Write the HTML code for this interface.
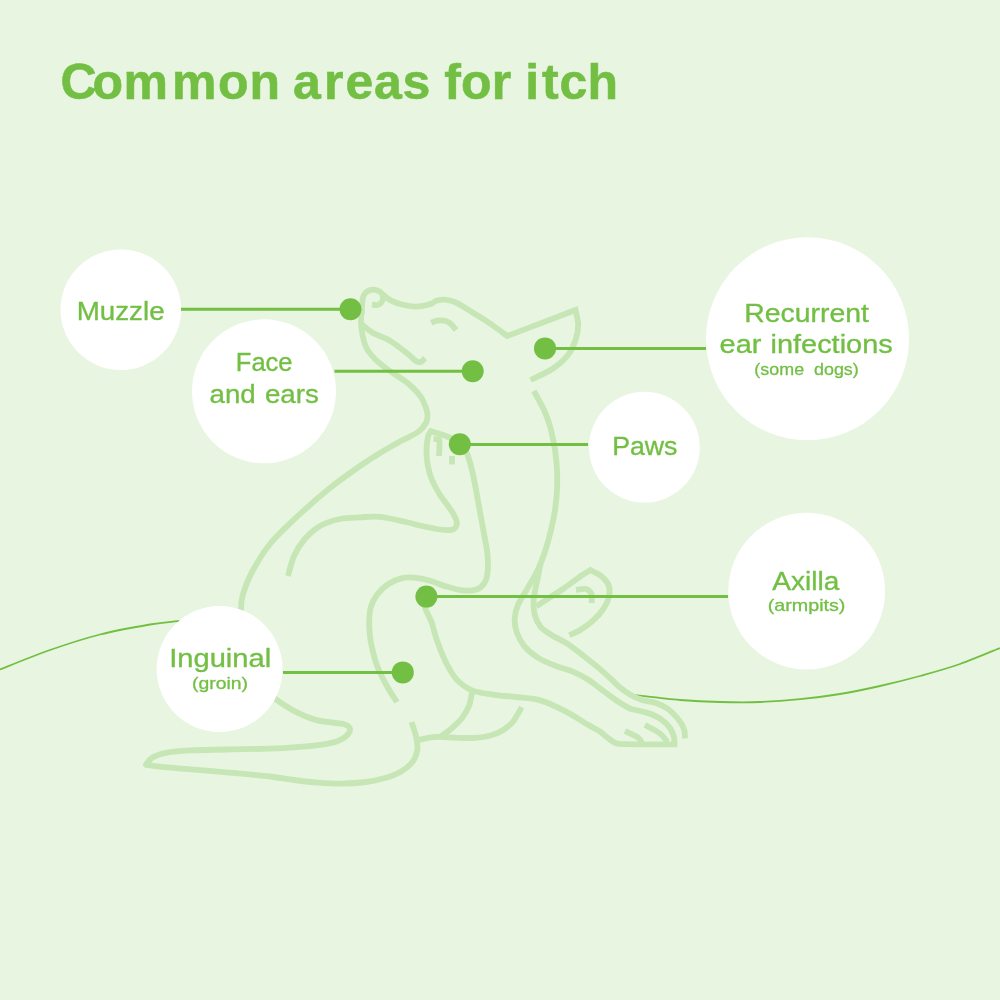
<!DOCTYPE html>
<html><head><meta charset="utf-8"><style>
html,body{margin:0;padding:0;background:#e8f5e0;}
body{width:1000px;height:1000px;overflow:hidden;position:relative;font-family:"Liberation Sans",sans-serif;}
svg{position:absolute;left:0;top:0;}
text{font-family:"Liberation Sans",sans-serif;fill:#72bf44;stroke:#72bf44;stroke-linejoin:round;}
</style></head><body>
<svg width="1000" height="1000" viewBox="0 0 1000 1000">
<rect width="1000" height="1000" fill="#e8f5e0"/>
<g fill="none" stroke="#72bf44" stroke-width="1.8">
<path d="M0.0 669.5 C8.3 666.2 33.3 655.8 50.0 650.0 C66.7 644.2 83.3 638.8 100.0 634.5 C116.7 630.2 137.1 626.7 150.0 624.5 C162.9 622.3 169.2 622.1 177.5 621.2 C185.8 620.3 196.2 619.4 200.0 619.0"/>
<path d="M636.0 695.2 C643.3 696.0 666.0 698.9 680.0 700.0 C694.0 701.1 706.7 701.7 720.0 702.0 C733.3 702.3 746.7 702.5 760.0 702.0 C773.3 701.5 786.7 700.5 800.0 699.2 C813.3 697.9 826.7 696.2 840.0 694.0 C853.3 691.8 866.7 689.0 880.0 686.0 C893.3 683.0 906.7 679.7 920.0 676.0 C933.3 672.3 946.7 668.7 960.0 664.0 C973.3 659.3 993.3 650.7 1000.0 648.0"/>
</g>
<g fill="none" stroke="#c6e6b6" stroke-width="5.8" stroke-linejoin="miter" stroke-miterlimit="6" stroke-linecap="butt">
<path d="M361.7 310.0 C361.6 312.0 360.9 317.8 361.0 322.0 C361.1 326.2 361.6 330.7 362.5 335.0 C363.4 339.3 364.4 344.0 366.5 348.0 C368.6 352.0 371.6 355.5 375.0 359.0 C378.4 362.5 383.0 366.0 387.0 369.0 C391.0 372.0 395.0 374.2 399.0 377.0 C403.0 379.8 407.3 382.7 411.0 386.0 C414.7 389.3 418.5 393.3 421.0 397.0 C423.5 400.7 424.9 405.0 426.0 408.0 C427.1 411.0 427.5 412.5 427.5 415.0 C427.5 417.5 427.6 420.2 426.0 423.0 C424.4 425.8 422.3 428.9 418.0 432.0 C413.7 435.1 406.3 438.0 400.0 441.5 C393.7 445.0 386.7 448.9 380.0 453.0 C373.3 457.1 368.3 460.2 360.0 466.0 C351.7 471.8 340.0 480.0 330.0 488.0 C320.0 496.0 310.0 504.7 300.0 514.0 C290.0 523.3 278.0 534.3 270.0 544.0 C262.0 553.7 256.5 563.7 252.0 572.0 C247.5 580.3 244.8 587.8 243.0 594.0 C241.2 600.2 241.0 601.3 241.0 609.0 C241.0 616.7 241.2 629.8 243.0 640.0 C244.8 650.2 248.5 662.0 252.0 670.0 C255.5 678.0 259.9 683.1 264.0 688.0 C268.1 692.9 271.4 695.8 276.4 699.6 C281.4 703.4 287.6 707.5 294.0 710.8 C300.4 714.1 308.1 717.6 314.8 719.6 C321.5 721.6 328.9 722.0 334.0 722.8 C339.1 723.6 342.5 723.6 345.2 724.6 C347.9 725.6 349.7 727.0 350.0 728.8 C350.3 730.6 348.9 733.5 346.8 735.6 C344.7 737.7 342.0 739.6 337.2 741.2 C332.4 742.8 325.2 744.2 318.0 745.2 C310.8 746.2 302.0 746.8 294.0 747.4 C286.0 748.0 281.3 748.2 270.0 748.6 C258.7 749.0 239.3 749.2 226.0 749.5 C212.7 749.8 200.0 749.9 190.0 750.4 C180.0 750.9 172.2 751.6 166.0 752.8 C159.8 754.0 155.8 755.5 152.5 757.5 C149.2 759.5 147.1 763.6 146.0 764.8 L146.0 764.8 C148.3 765.1 154.7 766.0 160.0 766.6 C165.3 767.2 167.0 767.3 178.0 768.3 C189.0 769.2 210.7 770.9 226.0 772.3 C241.3 773.7 258.7 775.2 270.0 776.5 C281.3 777.8 286.0 779.0 294.0 780.0 C302.0 781.0 310.0 782.0 318.0 782.6 C326.0 783.2 334.0 783.7 342.0 783.6 C350.0 783.5 358.8 782.9 366.0 782.0 C373.2 781.1 379.3 779.7 385.2 778.0 C391.1 776.3 396.7 774.3 401.2 771.6 C405.7 768.9 409.7 765.5 412.4 762.0 C415.1 758.5 416.5 754.8 417.2 750.8 C417.9 746.8 417.3 742.8 416.4 738.0 C415.5 733.2 412.4 724.7 411.6 722.0" stroke-linejoin="round"/>
<path d="M361.6 314.0 C361.7 312.7 361.8 308.8 362.0 306.0 C362.2 303.2 362.4 299.7 363.0 297.5 C363.6 295.3 364.3 294.2 365.3 293.0 C366.3 291.8 367.6 291.1 369.0 290.5 C370.4 289.9 372.2 289.4 374.0 289.6 C375.8 289.8 378.0 290.6 379.6 291.5 C381.2 292.4 381.9 293.8 383.8 295.3 C385.7 296.8 387.8 299.0 391.0 300.6 C394.2 302.2 399.0 303.8 403.0 304.8 C407.0 305.8 411.3 306.5 415.0 306.6 C418.7 306.7 422.2 306.0 425.0 305.5 C427.8 305.0 430.0 304.3 432.0 303.5 C434.0 302.7 434.8 301.1 437.0 300.5 C439.2 299.9 442.0 299.3 445.0 299.6 C448.0 299.9 451.7 300.8 455.0 302.2 C458.3 303.6 461.7 305.8 465.0 307.8 C468.3 309.8 471.7 311.9 475.0 314.0 C478.3 316.1 481.7 318.0 485.0 320.2 C488.3 322.4 491.3 324.4 495.0 327.0 C498.7 329.6 505.2 334.5 507.3 336.0 L575.5 310.0 C576.0 312.5 578.2 320.0 578.2 325.0 C578.2 330.0 577.2 335.0 575.5 340.0 C573.8 345.0 571.8 350.2 568.0 355.0 C564.2 359.8 559.2 364.3 553.0 368.5 C546.8 372.7 534.2 378.1 530.5 380.0"/>
<path d="M536.5 606.2 C538.4 605.0 543.2 601.7 547.6 598.8 C552.0 595.9 557.9 592.5 563.0 589.0 C568.1 585.5 573.9 580.9 578.4 577.8 C582.9 574.6 588.3 571.4 590.3 570.1 L590.3 570.1 C592.0 571.0 597.8 573.2 600.8 575.7 C603.8 578.2 607.1 581.4 608.5 584.8 C609.9 588.2 610.0 592.0 609.2 596.0 C608.4 600.0 606.4 604.4 603.6 608.6 C600.8 612.8 596.4 617.6 592.4 621.2 C588.4 624.8 583.6 628.0 579.8 630.3 C575.9 632.6 571.0 634.4 569.3 635.2"/>
<path d="M452.0 439.0 C451.5 438.7 451.0 438.0 449.0 437.2 C447.0 436.4 443.0 435.0 440.0 434.0 C437.0 433.0 432.5 431.8 431.0 431.3 L431.0 431.3 C430.5 432.1 428.9 432.9 428.2 436.0 C427.4 439.1 426.6 445.2 426.5 450.0 C426.4 454.8 426.8 460.0 427.7 465.0 C428.6 470.0 429.9 475.0 432.0 480.0 C434.1 485.0 437.3 490.7 440.0 495.0 C442.7 499.3 445.7 502.7 448.0 506.0 C450.3 509.3 452.5 512.2 454.0 515.0 C455.5 517.8 456.6 520.4 456.8 522.5 C457.1 524.6 456.5 526.2 455.5 527.5 C454.5 528.8 453.6 529.7 451.0 530.0 C448.4 530.3 445.2 530.2 440.0 529.5 C434.8 528.8 425.7 526.8 420.0 525.5 C414.3 524.2 412.7 523.5 406.0 522.0 C399.3 520.5 387.7 517.6 380.0 516.8 C372.3 516.0 366.7 517.0 360.0 517.4 C353.3 517.8 346.7 517.6 340.0 519.0 C333.3 520.4 326.0 522.5 320.0 526.0 C314.0 529.5 308.3 535.0 304.0 540.0 C299.7 545.0 296.7 550.0 294.0 556.0 C291.3 562.0 289.0 572.7 288.0 576.0"/>
<path d="M382.3 293.5 C382.4 294.4 383.2 297.4 383.0 299.0 C382.8 300.6 382.0 302.0 381.0 303.0 C380.0 304.0 378.5 305.0 377.0 305.2 C375.5 305.4 372.8 304.4 372.0 304.3"/>
<path d="M362.0 324.5 C363.8 325.9 368.8 330.6 373.0 333.0 C377.2 335.4 382.7 336.7 387.0 339.0 C391.3 341.3 395.3 344.3 399.0 347.0 C402.7 349.7 406.2 352.7 409.0 355.0 C411.8 357.3 414.0 359.8 416.0 361.0 C418.0 362.2 419.5 362.5 421.0 362.0 C422.5 361.5 424.3 358.7 425.0 358.0"/>
<path d="M431.3 322.8 C432.2 322.4 434.7 320.9 437.0 320.6 C439.3 320.3 442.7 320.2 445.0 320.8 C447.3 321.4 449.2 322.5 451.0 324.0 C452.8 325.5 455.2 329.0 456.0 330.0"/>
<path d="M533.8 391.0 C534.7 392.6 537.3 397.1 539.0 400.3 C540.7 403.5 542.5 406.7 544.0 410.0 C545.5 413.3 546.8 416.7 548.0 420.0 C549.2 423.3 549.8 425.0 551.0 430.0 C552.2 435.0 554.0 443.3 555.0 450.0 C556.0 456.7 556.7 463.3 557.0 470.0 C557.3 476.7 557.3 483.3 557.0 490.0 C556.7 496.7 556.0 503.3 555.0 510.0 C554.0 516.7 552.6 523.3 551.0 530.0 C549.4 536.7 547.6 543.5 545.5 550.0 C543.4 556.5 541.2 562.7 538.3 569.0 C535.4 575.3 531.4 581.7 528.0 587.6 C524.6 593.5 520.4 599.3 518.2 604.4 C516.0 609.5 514.9 613.7 514.7 618.4 C514.5 623.1 515.2 627.7 516.8 632.4 C518.4 637.1 521.0 642.2 524.5 646.4 C528.0 650.6 532.5 654.3 537.8 657.6 C543.0 660.9 550.2 663.7 556.0 666.0 C561.8 668.3 567.5 669.4 572.8 671.6 C578.1 673.9 583.5 676.7 588.0 679.5 C592.5 682.3 596.3 685.6 600.0 688.3 C603.7 691.0 606.7 693.4 610.0 695.8 C613.3 698.2 616.7 700.7 620.0 702.8 C623.3 704.9 626.3 707.0 630.0 708.5 C633.7 710.0 638.3 710.5 642.0 711.5 C645.7 712.5 648.7 713.1 652.0 714.5 C655.3 715.9 659.0 717.8 662.0 720.0 C665.0 722.2 668.0 725.2 670.0 728.0 C672.0 730.8 673.2 733.9 674.0 737.0 C674.8 740.1 674.4 744.9 674.5 746.5"/>
<path d="M540.5 563.5 C540.1 565.4 539.1 571.0 538.3 575.0 C537.5 579.0 536.5 583.2 535.7 587.6 C534.9 592.0 533.7 596.9 533.6 601.6 C533.5 606.3 533.8 611.4 535.0 615.6 C536.2 619.8 537.8 623.5 540.6 626.8 C543.4 630.1 547.4 632.4 551.8 635.2 C556.2 638.0 561.8 640.1 567.2 643.6 C572.6 647.1 578.9 652.2 584.0 656.2 C589.1 660.2 593.3 663.4 598.0 667.4 C602.7 671.4 608.3 676.6 612.0 680.0 C615.7 683.4 617.0 685.1 620.0 687.5 C623.0 689.9 626.3 692.4 630.0 694.5 C633.7 696.6 637.7 698.6 642.0 700.0 C646.3 701.4 651.7 701.5 656.0 703.0 C660.3 704.5 664.3 706.3 668.0 709.0 C671.7 711.7 675.3 715.7 678.0 719.0 C680.7 722.3 682.8 725.8 684.0 729.0 C685.2 732.2 684.8 736.9 685.0 738.5"/>
<path d="M576.0 590.0 C577.7 589.8 583.4 588.3 586.0 589.0 C588.6 589.7 590.6 591.7 591.5 594.0 C592.4 596.3 591.5 601.5 591.5 603.0"/>
<path d="M466.0 452.0 C466.3 452.7 467.0 453.0 468.0 456.0 C469.0 459.0 470.7 464.3 472.0 470.0 C473.3 475.7 474.7 483.0 476.0 490.0 C477.3 497.0 478.5 503.7 480.0 512.0 C481.5 520.3 483.9 532.7 485.2 540.0 C486.5 547.3 487.2 550.7 487.6 556.0 C488.0 561.3 488.1 567.5 487.6 572.0 C487.1 576.5 486.3 580.3 484.4 583.2 C482.5 586.1 480.1 588.4 476.4 589.6 C472.7 590.8 467.1 590.9 462.0 590.4 C456.9 589.9 451.3 588.0 446.0 586.4 C440.7 584.8 435.3 582.3 430.0 580.8 C424.7 579.3 418.8 578.0 414.0 577.6 C409.2 577.2 405.5 577.3 401.2 578.4 C396.9 579.5 392.4 581.3 388.4 584.0 C384.4 586.7 380.1 590.5 377.2 594.4 C374.3 598.3 372.1 602.4 370.8 607.2 C369.5 612.0 369.2 617.7 369.2 623.2 C369.1 628.7 369.9 635.2 370.5 640.0 C371.1 644.8 371.8 647.3 373.0 652.0 C374.2 656.7 375.5 662.0 378.0 668.0 C380.5 674.0 384.8 682.3 388.0 688.0 C391.2 693.7 395.5 699.7 397.0 702.0"/>
<path d="M424.0 596.0 C424.2 598.1 424.2 604.5 425.5 608.8 C426.8 613.1 429.6 616.8 431.5 622.0 C433.4 627.2 434.4 633.4 436.8 640.0 C439.2 646.6 442.3 655.2 445.6 661.8 C448.9 668.4 452.2 674.6 456.6 679.4 C461.0 684.2 465.8 687.8 472.0 690.4 C478.2 693.0 486.7 693.7 494.0 694.8 C501.3 695.9 508.2 696.0 516.0 697.0 C523.8 698.0 532.7 698.2 541.0 700.6 C549.3 703.0 558.2 707.6 566.0 711.6 C573.8 715.6 582.3 721.5 588.0 724.8 C593.7 728.1 596.7 729.3 600.0 731.5 C603.3 733.7 605.3 736.0 608.0 738.0 C610.7 740.0 613.0 742.2 616.0 743.2 C619.0 744.2 620.3 744.0 626.0 744.2 C631.7 744.4 641.5 744.3 650.0 744.3 C658.5 744.3 672.7 744.3 677.2 744.3"/>
<path d="M433.5 439.2 C434.2 439.2 437.0 438.8 438.0 439.2 C439.0 439.6 439.3 438.7 439.5 441.5 C439.7 444.3 439.1 453.6 439.0 456.0"/>
<path d="M452.0 456.0 C452.0 457.4 452.0 463.1 452.0 464.5"/>
<path d="M472.0 692.6 C471.5 694.7 470.8 701.0 469.2 705.2 C467.6 709.4 465.2 713.8 462.2 717.8 C459.2 721.8 454.4 726.0 451.0 729.0 C447.6 732.0 443.1 734.7 441.5 735.8"/>
<path d="M416.3 740.4 C417.9 740.0 422.6 738.9 426.0 738.3 C429.4 737.7 432.8 736.9 437.0 736.8 C441.2 736.7 446.3 737.3 451.0 737.5 C455.7 737.7 460.8 738.0 465.0 738.0 C469.2 738.0 472.5 738.0 476.0 737.8 C479.5 737.5 482.8 737.1 486.0 736.5 C489.2 735.9 492.2 735.0 495.0 734.0 C497.8 733.0 500.5 731.6 502.8 730.2 C505.1 728.8 507.1 727.1 509.0 725.5 C510.9 723.9 511.9 723.4 514.0 720.4 C516.1 717.4 520.4 709.5 521.7 707.3"/>
<path d="M625.0 731.0 C627.2 732.1 635.2 735.5 638.0 737.5 C640.8 739.5 641.3 742.1 642.0 743.0"/>
<path d="M645.0 725.0 C647.5 726.4 656.2 730.7 660.0 733.5 C663.8 736.3 666.2 740.6 667.5 742.0"/>
</g>
<g fill="#fff">
<circle cx="120.8" cy="309.7" r="60.3"/>
<circle cx="264" cy="391.3" r="72"/>
<circle cx="219.6" cy="669" r="63"/>
<circle cx="807.5" cy="338.8" r="101.5"/>
<circle cx="644.4" cy="447.2" r="55.4"/>
<circle cx="806.7" cy="591.1" r="78.4"/>
</g>
<g stroke="#72bf44" stroke-width="3" fill="none">
<path d="M181 309.3H350"/>
<path d="M334.5 371.2H472"/>
<path d="M283 672.4H403"/>
<path d="M545 348.5H706"/>
<path d="M460 444.4H588"/>
<path d="M426 596.5H728"/>
</g>
<g fill="#72bf44">
<circle cx="350.5" cy="309.3" r="11"/>
<circle cx="472.7" cy="371.2" r="11"/>
<circle cx="545" cy="348.4" r="11"/>
<circle cx="459.8" cy="444.3" r="11"/>
<circle cx="426.4" cy="596.6" r="11"/>
<circle cx="402.8" cy="672.4" r="11"/>
</g>
<g opacity="0.999">
<text id="title" x="60.6 92.5 123.5 172.0 218.0 249.5 269.5 293.0 324.0 345.5 374.0 402.5 422.5 444.2 461.0 491.8 511.8 525.2 542.0 559.5 587.5" y="98.8" font-size="50" font-weight="bold" stroke-width="0.6">Common areas for itch</text>
<text id="muzzle" stroke-width="0.35" transform="translate(76.73 319.60) scale(1.0667 1)" font-size="26">Muzzle</text>
<text id="face1" stroke-width="0.35" transform="translate(235.82 371.20) scale(0.9804 1)" font-size="26">Face</text>
<text id="face2" stroke-width="0.35" transform="translate(0 403.40) scale(1.0645 1)" font-size="26"><tspan x="196.82">and</tspan> <tspan x="248.93">ears</tspan></text>
<text id="ing" stroke-width="0.35" transform="translate(169.18 667.30) scale(1.1202 1)" font-size="26">Inguinal</text>
<text id="groin" stroke-width="0.3" transform="translate(192.00 689.20) scale(1.1979 1)" font-size="16.2">(groin)</text>
<text id="rec1" stroke-width="0.35" transform="translate(744.31 321.60) scale(1.0930 1)" font-size="26">Recurrent</text>
<text id="rec2" stroke-width="0.35" transform="translate(0 353.40) scale(1.1124 1)" font-size="26"><tspan x="646.86">ear</tspan> <tspan x="692.67">infections</tspan></text>
<text id="some" stroke-width="0.3" transform="translate(0 375.30) scale(1.1057 1)" font-size="16.2"><tspan x="682.26">(some</tspan> <tspan x="736.18">dogs)</tspan></text>
<text id="paws" stroke-width="0.35" transform="translate(612.17 454.80) scale(1.0274 1)" font-size="26">Paws</text>
<text id="ax" stroke-width="0.35" transform="translate(772.20 589.50) scale(1.0794 1)" font-size="26">Axilla</text>
<text id="arm" stroke-width="0.3" transform="translate(767.70 610.60) scale(1.2172 1)" font-size="16.2">(armpits)</text>
</g>
</svg>
</body></html>
